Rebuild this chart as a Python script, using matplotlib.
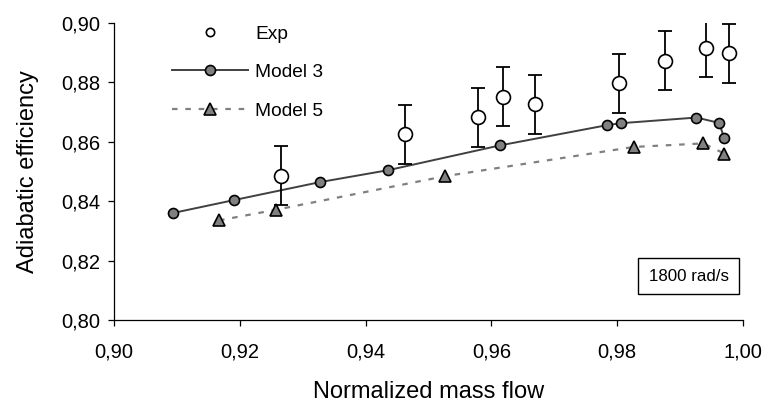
import numpy as np
import matplotlib as mpl
import matplotlib.pyplot as plt
from matplotlib.lines import Line2D
from matplotlib.patches import Rectangle
from matplotlib.ticker import FuncFormatter

plt.rcParams['font.family'] = ['Liberation Sans', 'DejaVu Sans']

# experimental points (normalized mass flow, efficiency, error bar)
exp_x = [0.9265, 0.9463, 0.9579, 0.9618, 0.9669, 0.9803, 0.9876, 0.9941, 0.9978]
exp_y = [0.8486, 0.8625, 0.8682, 0.8751, 0.8726, 0.8796, 0.8872, 0.8916, 0.8897]
exp_err = 0.0099

# model 3
m3_x = [0.9094, 0.9190, 0.9328, 0.9436, 0.9613, 0.9783, 0.9806, 0.9926, 0.9962, 0.9970]
m3_y = [0.8360, 0.8403, 0.8464, 0.8504, 0.8587, 0.8655, 0.8662, 0.8681, 0.8663, 0.8613]

# model 5
m5_x = [0.9167, 0.9258, 0.9527, 0.9826, 0.9937, 0.9970]
m5_y = [0.8335, 0.8371, 0.8484, 0.8582, 0.8594, 0.8560]

x_ticks = [0.90, 0.92, 0.94, 0.96, 0.98, 1.00]
y_ticks = [0.80, 0.82, 0.84, 0.86, 0.88, 0.90]
speed_label = '1800 rad/s'

fig = plt.figure(figsize=(7.65, 4.05), dpi=100)
ax = fig.add_axes([114 / 765, 1 - 320 / 405, 629 / 765, 297.3 / 405])

ax.plot(m3_x, m3_y, '-', color='#404040', lw=1.4, zorder=2)
ax.plot(m3_x, m3_y, 'o', ms=7.2, mfc='#808080', mec='black', mew=1.2, zorder=4)

ax.plot(m5_x, m5_y, '--', color='#808080', lw=1.6, dashes=(2.5, 3.5), zorder=2)
ax.plot(m5_x, m5_y, '^', ms=8.5, mfc='#808080', mec='black', mew=1.2, zorder=4)

ax.errorbar(exp_x, exp_y, yerr=exp_err, fmt='none', ecolor='black', elinewidth=1.3,
            capsize=4.8, capthick=1.3, zorder=3)
ax.plot(exp_x, exp_y, 'o', ms=10, mfc='white', mec='black', mew=1.2, zorder=5)

ax.set_xlim(0.90, 1.00)
ax.set_ylim(0.80, 0.90)
ax.set_xticks(x_ticks)
ax.set_yticks(y_ticks)
fmt = FuncFormatter(lambda v, p: ('%.2f' % v).replace('.', ','))
ax.xaxis.set_major_formatter(fmt)
ax.yaxis.set_major_formatter(fmt)

for s in ['top', 'right']:
    ax.spines[s].set_visible(False)
for s in ['left', 'bottom']:
    ax.spines[s].set_linewidth(0.9)
ax.tick_params(direction='out', length=4, width=0.9, labelsize=14.5)
ax.tick_params(axis='y', pad=6)
ax.tick_params(axis='x', pad=12)

ax.set_xlabel('Normalized mass flow', fontsize=17, labelpad=14)
ax.set_ylabel('Adiabatic efficiency', fontsize=17, labelpad=16)

handles = [
    Line2D([], [], ls='none', marker='o', ms=6, mfc='white', mec='black', mew=1.2),
    Line2D([], [], color='#404040', lw=1.4, marker='o', ms=7.2, mfc='#808080', mec='black', mew=1.2),
    Line2D([], [], color='#808080', lw=1.6, ls='--', dashes=(2.5, 3.5), marker='^', ms=8.5,
           mfc='#808080', mec='black', mew=1.2),
]
ax.legend(handles, ['Exp', 'Model 3', 'Model 5'], loc='upper left',
          bbox_to_anchor=(0.064, 1.05), frameon=False, fontsize=13.8,
          handlelength=4.0, handletextpad=0.35, labelspacing=1.1)

ax.add_patch(Rectangle((0.833, 0.086), 0.161, 0.121, transform=ax.transAxes,
                       fill=False, ec='black', lw=1.0, clip_on=False))
ax.text(0.9135, 0.146, speed_label, transform=ax.transAxes, ha='center', va='center',
        fontsize=12.2)

fig.savefig('out.png', dpi=100)
